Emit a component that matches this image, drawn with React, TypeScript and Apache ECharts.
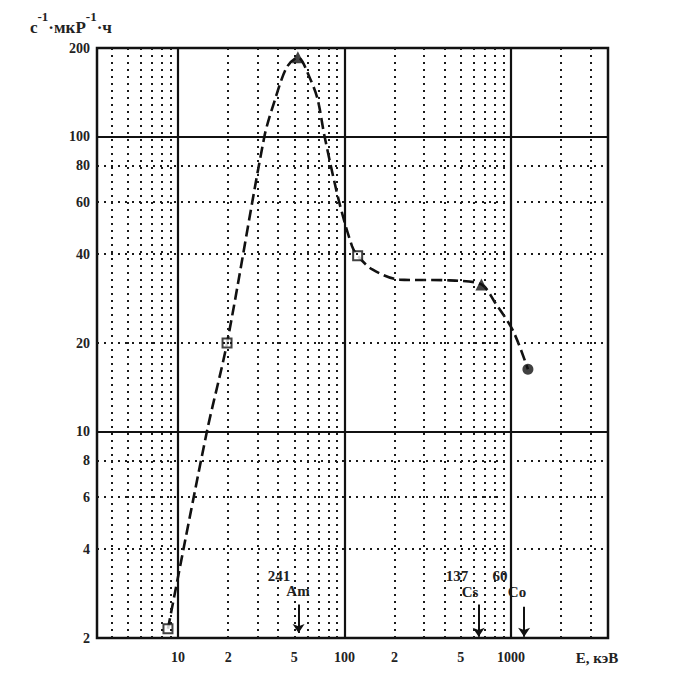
import React, { useEffect, useRef } from "react";
import * as echarts from "echarts";

// ---- data ----
const curveE = [8.7, 14.9, 19.7, 33, 38.3, 45, 52.5, 62, 69, 76, 93, 111, 120, 147, 214, 427, 665, 800, 1030, 1265];
const curveV = [2.15, 10, 20, 100, 134, 172, 186, 158, 134, 100, 60, 42.6, 39.5, 35.5, 32.8, 32.6, 31.6, 27.5, 22, 16.3];

const openE = [8.7, 19.7, 120];
const openV = [2.15, 20, 39.5];
const filledE = [52.5, 665];
const filledV = [186, 31.6];
const circleE = [1265];
const circleV = [16.3];

const xTickValues = [10, 20, 50, 100, 200, 500, 1000];
const xTickLabels = ["10", "2", "5", "100", "2", "5", "1000"];
const yTickValues = [2, 4, 6, 8, 10, 20, 40, 60, 80, 100, 200];
const yTickLabels = ["2", "4", "6", "8", "10", "20", "40", "60", "80", "100", "200"];

const xMinorGrid = [4, 5, 6, 7, 8, 9, 20, 30, 40, 50, 60, 70, 80, 90, 200, 300, 400, 500, 600, 700, 800, 900, 2000, 3000];
const xMajorGrid = [10, 100, 1000];
const yMinorGrid = [4, 6, 8, 20, 40, 60, 80];
const yMajorGrid = [10, 100];

const X_MIN = 3.26;
const X_MAX = 3830;
const Y_MIN = 2;
const Y_MAX = 200;

// source lines (energy, arrow top, arrow bottom)
const arrowE = [53, 640, 1200];
const arrowTop = [2.6, 2.6, 2.55];
const arrowBottom = [2.08, 2.02, 2.02];

const FONT = "'Liberation Serif', 'DejaVu Serif', serif";

function nearestLabel(v: number, vals: number[], labels: string[]) {
  let best = -1;
  let bd = Infinity;
  vals.forEach((t, i) => {
    const d = Math.abs(Math.log10(v) - Math.log10(t));
    if (d < bd) {
      bd = d;
      best = i;
    }
  });
  return bd < 0.01 ? labels[best] : "";
}

export default function App() {
  const ref = useRef<HTMLDivElement>(null);
  useEffect(() => {
    if (!ref.current) return;
    const chart = echarts.init(ref.current, undefined, { renderer: "svg" });

    const minorStyle = { color: "#1a1a1a", width: 2, type: [2, 5] as any };
    const majorStyle = { color: "#111", width: 2.2, type: "solid" as any };

    const gridLines: any[] = [];
    xMinorGrid.forEach((v) => gridLines.push({ xAxis: v, lineStyle: minorStyle }));
    yMinorGrid.forEach((v) => gridLines.push({ yAxis: v, lineStyle: minorStyle }));
    xMajorGrid.forEach((v) => gridLines.push({ xAxis: v, lineStyle: majorStyle }));
    yMajorGrid.forEach((v) => gridLines.push({ yAxis: v, lineStyle: majorStyle }));

    const arrows: any[] = arrowE.map((e, i) => [
      { coord: [e, arrowTop[i]] },
      { coord: [e, arrowBottom[i]] },
    ]);

    const labelStyle = { fontFamily: FONT, fontWeight: "bold" as any, fontSize: 15, fill: "#222" };

    chart.setOption({
      animation: false,
      backgroundColor: "#fff",
      grid: {
        left: 97,
        right: 74,
        top: 48,
        bottom: 54,
        show: true,
        borderColor: "#111",
        borderWidth: 2.5,
        backgroundColor: "transparent",
      },
      xAxis: {
        type: "log",
        min: X_MIN,
        max: X_MAX,
        axisLine: { show: false },
        axisTick: { show: false },
        splitLine: { show: false },
        axisLabel: {
          customValues: xTickValues,
          margin: 12,
          fontFamily: FONT,
          fontWeight: "bold",
          fontSize: 14,
          color: "#222",
          formatter: (v: number) => nearestLabel(v, xTickValues, xTickLabels),
        },
      },
      yAxis: {
        type: "log",
        min: Y_MIN,
        max: Y_MAX,
        axisLine: { show: false },
        axisTick: { show: false },
        splitLine: { show: false },
        axisLabel: {
          customValues: yTickValues,
          margin: 7,
          fontFamily: FONT,
          fontWeight: "bold",
          fontSize: 14,
          color: "#222",
          formatter: (v: number) => nearestLabel(v, yTickValues, yTickLabels),
        },
      },
      series: [
        {
          type: "line",
          z: 1,
          data: [[10, 10]],
          symbol: "none",
          lineStyle: { opacity: 0 },
          silent: true,
          markLine: {
            silent: true,
            symbol: "none",
            label: { show: false },
            data: gridLines,
          },
        },
        {
          type: "line",
          z: 3,
          data: curveE.map((e, i) => [e, curveV[i]]),
          symbol: "none",
          smooth: 0.3,
          lineStyle: { color: "#111", width: 2.6, type: [11, 5] as any },
          markLine: {
            silent: true,
            symbol: ["none", "arrow"],
            symbolSize: 9,
            label: { show: false },
            lineStyle: { color: "#111", width: 2, type: "solid" },
            data: arrows,
          },
        },
        {
          type: "scatter",
          z: 4,
          data: openE.map((e, i) => [e, openV[i]]),
          symbol: "rect",
          symbolSize: 9,
          itemStyle: { color: "#fff", borderColor: "#111", borderWidth: 2 },
        },
        {
          type: "scatter",
          z: 4,
          data: filledE.map((e, i) => [e, filledV[i]]),
          symbol: "triangle",
          symbolSize: 12,
          itemStyle: { color: "#111" },
        },
        {
          type: "scatter",
          z: 4,
          data: circleE.map((e, i) => [e, circleV[i]]),
          symbol: "circle",
          symbolSize: 11,
          itemStyle: { color: "#111" },
        },
      ],
      graphic: [
        {
          type: "text",
          left: 30,
          top: 10,
          style: {
            text: "{b|с}{s|-1}{b|·мкР}{s|-1}{b|·ч}",
            rich: {
              b: { fontFamily: FONT, fontWeight: "bold", fontSize: 17, fill: "#222", lineHeight: 26, verticalAlign: "bottom" },
              s: { fontFamily: FONT, fontWeight: "bold", fontSize: 13, fill: "#222", lineHeight: 26, verticalAlign: "top" },
            },
          },
        },
        { type: "text", x: 279, y: 576, style: { ...labelStyle, text: "241", align: "center", verticalAlign: "middle" } },
        { type: "text", x: 298, y: 591, style: { ...labelStyle, text: "Am", align: "center", verticalAlign: "middle" } },
        { type: "text", x: 457, y: 576, style: { ...labelStyle, text: "137", align: "center", verticalAlign: "middle" } },
        { type: "text", x: 470, y: 592, style: { ...labelStyle, text: "Cs", align: "center", verticalAlign: "middle" } },
        { type: "text", x: 500, y: 576, style: { ...labelStyle, text: "60", align: "center", verticalAlign: "middle" } },
        { type: "text", x: 517, y: 592, style: { ...labelStyle, text: "Co", align: "center", verticalAlign: "middle" } },
        { type: "text", x: 597, y: 658, style: { ...labelStyle, text: "E, кэВ", align: "center", verticalAlign: "middle" } },
      ],
    });

    return () => chart.dispose();
  }, []);

  return (
    <div
      ref={ref}
      style={{ position: "absolute", left: 0, top: 0, width: 682, height: 692, background: "#fff" }}
    />
  );
}
